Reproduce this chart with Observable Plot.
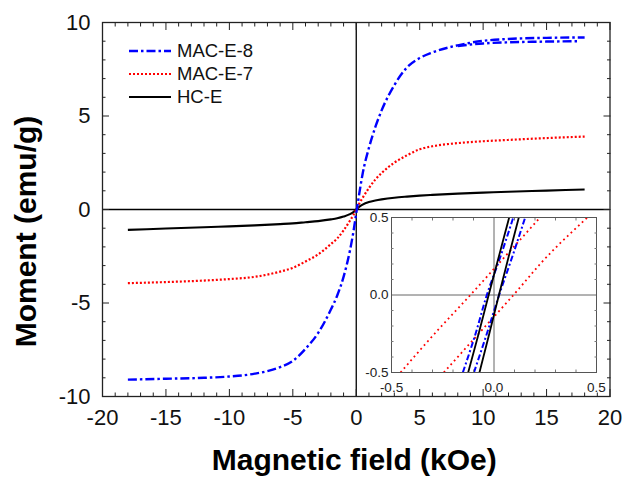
<!DOCTYPE html>
<html><head><meta charset="utf-8">
<script src="https://cdn.jsdelivr.net/npm/d3@7"></script>
<script src="https://cdn.jsdelivr.net/npm/@observablehq/plot@0.6"></script>
<style>
html,body{margin:0;padding:0;background:#fff;}
#wrap{position:relative;width:626px;height:478px;font-family:Arial,"Liberation Sans",sans-serif;}
#wrap > svg{position:absolute;}
</style></head><body><div id="wrap"></div>
<script>
// ---------- data ----------
const seriesNames = ["MAC-E-8", "MAC-E-7", "HC-E"];
const seriesColors = ["#0000ff", "#ff0000", "#000000"];

const fieldKOe = [-18,-15,-12,-10,-8,-6,-5,-4,-3,-2,-1.5,-1,-0.5,-0.25,0,0.25,0.5,1,1.5,2,3,4,5,6,8,10,12,15,18];
const momentMacE8 = [-9.1,-9.05,-9.0,-8.93,-8.78,-8.43,-8.1,-7.45,-6.6,-5.35,-4.6,-3.6,-2.2,-1.3,-0.2,0.9,1.9,3.3,4.4,5.3,6.65,7.6,8.1,8.4,8.78,9.02,9.12,9.18,9.2];
const momentMacE7 = [-3.94,-3.88,-3.8,-3.72,-3.6,-3.32,-3.12,-2.78,-2.4,-1.85,-1.55,-1.12,-0.6,-0.33,0,0.33,0.62,1.15,1.6,1.95,2.5,2.9,3.22,3.38,3.55,3.65,3.72,3.82,3.9];
const momentHcE   = [-1.09,-1.02,-0.95,-0.9,-0.85,-0.78,-0.74,-0.68,-0.62,-0.53,-0.47,-0.38,-0.25,-0.15,0,0.15,0.26,0.4,0.48,0.54,0.63,0.69,0.74,0.78,0.85,0.9,0.95,1.01,1.07];

// MAC-E-8 return branch at high field (loop opening)
const fieldMacE8Return  = [8, 9, 10, 12, 15, 17.4];
const momentMacE8Return = [8.74, 8.82, 8.88, 8.94, 8.98, 9.0];

// inset: low-field loops, field (kOe) read at these moments
const insetMoment = [-0.5, -0.25, 0, 0.25, 0.5];
const insetMacE8Left  = [-0.152, -0.09, -0.035, 0.032, 0.094];
const insetMacE8Right = [-0.098, -0.035, 0.025, 0.09, 0.152];
const insetMacE7Left  = [-0.456, -0.29, -0.115, 0.055, 0.225];
const insetMacE7Right = [-0.245, -0.075, 0.095, 0.26, 0.455];
const insetHcELeft    = [-0.126, -0.075, -0.026, 0.024, 0.074];
const insetHcERight   = [-0.071, -0.023, 0.024, 0.072, 0.121];

const xMajorTicks = [-20,-15,-10,-5,0,5,10,15,20];
const yMajorTicks = [-10,-5,0,5,10];
const xMinorTicks = d3.range(-20, 21, 1).filter(v => v % 5 !== 0);
const yMinorTicks = d3.range(-10, 11, 1).filter(v => v % 5 !== 0);
const insetTicks = [-0.5, 0.0, 0.5];
const insetMinorTicks = [-0.4,-0.3,-0.2,-0.1,0.1,0.2,0.3,0.4];

const xTitle = "Magnetic field (kOe)";
const yTitle = "Moment (emu/g)";

// ---------- helpers ----------
const toRows = (xs, ys) => xs.map((x, i) => ({x, y: ys[i]}));
const styles = [
  {stroke: seriesColors[0], strokeWidth: 2.4, strokeDasharray: "9,3,2.5,3", strokeLinecap: "butt"},
  {stroke: seriesColors[1], strokeWidth: 2.2, strokeDasharray: "2,2", strokeLinecap: "butt"},
  {stroke: seriesColors[2], strokeWidth: 2.1, strokeLinecap: "butt"}
];
const insetStyles = [
  {stroke: seriesColors[0], strokeWidth: 2, strokeDasharray: "6,2.5,2,2.5", strokeLinecap: "butt"},
  {stroke: seriesColors[1], strokeWidth: 1.8, strokeDasharray: "1.8,3.3", strokeLinecap: "butt"},
  {stroke: seriesColors[2], strokeWidth: 1.8, strokeLinecap: "butt"}
];
const font = "Arial, 'Liberation Sans', sans-serif";
const fmtInt = d => String(d);
const blank = () => "";

// ---------- main chart ----------
const main = Plot.plot({
  width: 626, height: 478,
  marginLeft: 102, marginRight: 16.5, marginTop: 22, marginBottom: 82,
  x: {domain: [-20, 20]},
  y: {domain: [-10, 10]},
  style: {fontFamily: font, background: "transparent", overflow: "visible"},
  marks: [
    Plot.ruleX([0], {stroke: "#000", strokeWidth: 1.3}),
    Plot.ruleY([0], {stroke: "#000", strokeWidth: 1.3}),
    Plot.line(toRows(fieldKOe, momentHcE), {x: "x", y: "y", curve: "monotone-x", ...styles[2]}),
    Plot.line(toRows(fieldKOe, momentMacE7), {x: "x", y: "y", curve: "monotone-x", ...styles[1]}),
    Plot.line(toRows(fieldKOe, momentMacE8), {x: "x", y: "y", curve: "monotone-x", ...styles[0]}),
    Plot.line(toRows(fieldMacE8Return, momentMacE8Return), {x: "x", y: "y", curve: "monotone-x", ...styles[0]}),
    Plot.frame({stroke: "#222", strokeWidth: 1.3}),
    // labels
    Plot.axisX(xMajorTicks, {anchor: "bottom", tickSize: 0, tickPadding: 13, fontSize: 22, tickFormat: fmtInt, label: null, fill: "#111"}),
    Plot.axisY(yMajorTicks, {anchor: "left", tickSize: 0, tickPadding: 12, fontSize: 22, tickFormat: fmtInt, label: null, fill: "#111"}),
    // inward ticks on four sides
    Plot.axisX(xMajorTicks, {anchor: "bottom", tickSize: -7, tickFormat: blank, label: null, stroke: "#222"}),
    Plot.axisX(xMinorTicks, {anchor: "bottom", tickSize: -3.5, tickFormat: blank, label: null, stroke: "#222"}),
    Plot.axisX(xMajorTicks, {anchor: "top", tickSize: -7, tickFormat: blank, label: null, stroke: "#222"}),
    Plot.axisX(xMinorTicks, {anchor: "top", tickSize: -3.5, tickFormat: blank, label: null, stroke: "#222"}),
    Plot.axisY(yMajorTicks, {anchor: "left", tickSize: -7, tickFormat: blank, label: null, stroke: "#222"}),
    Plot.axisY(yMinorTicks, {anchor: "left", tickSize: -3.5, tickFormat: blank, label: null, stroke: "#222"}),
    Plot.axisY(yMajorTicks, {anchor: "right", tickSize: -7, tickFormat: blank, label: null, stroke: "#222"}),
    Plot.axisY(yMinorTicks, {anchor: "right", tickSize: -3.5, tickFormat: blank, label: null, stroke: "#222"}),
    // axis titles
    Plot.text([xTitle], {text: d => d, frameAnchor: "bottom", textAnchor: "middle", dx: -2, dy: 64, fontSize: 30, fontWeight: "bold", lineAnchor: "middle", fill: "#000"}),
    Plot.text([yTitle], {text: d => d, frameAnchor: "left", textAnchor: "middle", dx: -76, dy: 22, rotate: -90, fontSize: 30, fontWeight: "bold", lineAnchor: "middle", fill: "#000"})
  ]
});
main.style.left = "0px"; main.style.top = "0px";
document.getElementById("wrap").appendChild(main);

// ---------- inset ----------
const insetBranches = [
  [insetMacE7Left, 1], [insetMacE7Right, 1],
  [insetMacE8Left, 0], [insetMacE8Right, 0],
  [insetHcELeft, 2], [insetHcERight, 2]
];
const fmt1 = d => d.toFixed(1);
const inset = Plot.plot({
  width: 265, height: 185,
  marginLeft: 40, marginRight: 20, marginTop: 10, marginBottom: 20,
  x: {domain: [-0.5, 0.5]},
  y: {domain: [-0.5, 0.5]},
  style: {fontFamily: font, background: "transparent", overflow: "visible"},
  marks: [
    Plot.frame({fill: "#fff", stroke: null}),
    Plot.ruleX([0], {stroke: "#666", strokeWidth: 1}),
    Plot.ruleY([0], {stroke: "#666", strokeWidth: 1}),
    ...insetBranches.map(([xs, s]) => Plot.line(toRows(xs, insetMoment), {x: "x", y: "y", curve: "monotone-y", clip: true, ...insetStyles[s]})),
    Plot.frame({stroke: "#555", strokeWidth: 1}),
    Plot.axisX(insetTicks, {anchor: "bottom", tickSize: 0, tickPadding: 10, fontSize: 13.5, tickFormat: fmt1, label: null, fill: "#222"}),
    Plot.axisY(insetTicks, {anchor: "left", tickSize: 0, tickPadding: 3, fontSize: 13.5, tickFormat: fmt1, label: null, fill: "#222"}),
    Plot.axisX(insetMinorTicks, {anchor: "bottom", tickSize: -2.5, tickFormat: blank, label: null, stroke: "#777"}),
    Plot.axisX(insetMinorTicks, {anchor: "top", tickSize: -2.5, tickFormat: blank, label: null, stroke: "#777"}),
    Plot.axisY(insetMinorTicks, {anchor: "left", tickSize: -2.5, tickFormat: blank, label: null, stroke: "#777"}),
    Plot.axisY(insetMinorTicks, {anchor: "right", tickSize: -2.5, tickFormat: blank, label: null, stroke: "#777"})
  ]
});
inset.style.left = "351px"; inset.style.top = "207px";
document.getElementById("wrap").appendChild(inset);

// ---------- legend ----------
const legend = d3.create("svg").attr("width", 160).attr("height", 80)
  .style("left", "125px").style("top", "38px").style("overflow", "visible");
seriesNames.forEach((name, i) => {
  const g = legend.append("g").attr("transform", `translate(0,${13 + i * 23})`);
  const st = styles[i];
  g.append("line").attr("x1", 4).attr("x2", 46).attr("y1", 0).attr("y2", 0)
    .attr("stroke", st.stroke).attr("stroke-width", st.strokeWidth)
    .attr("stroke-dasharray", st.strokeDasharray || null);
  g.append("text").attr("x", 52).attr("y", 0).attr("dy", "0.35em")
    .attr("font-family", font).attr("font-size", 18.5).attr("fill", "#111").text(name);
});
document.getElementById("wrap").appendChild(legend.node());
</script>
</body></html>
